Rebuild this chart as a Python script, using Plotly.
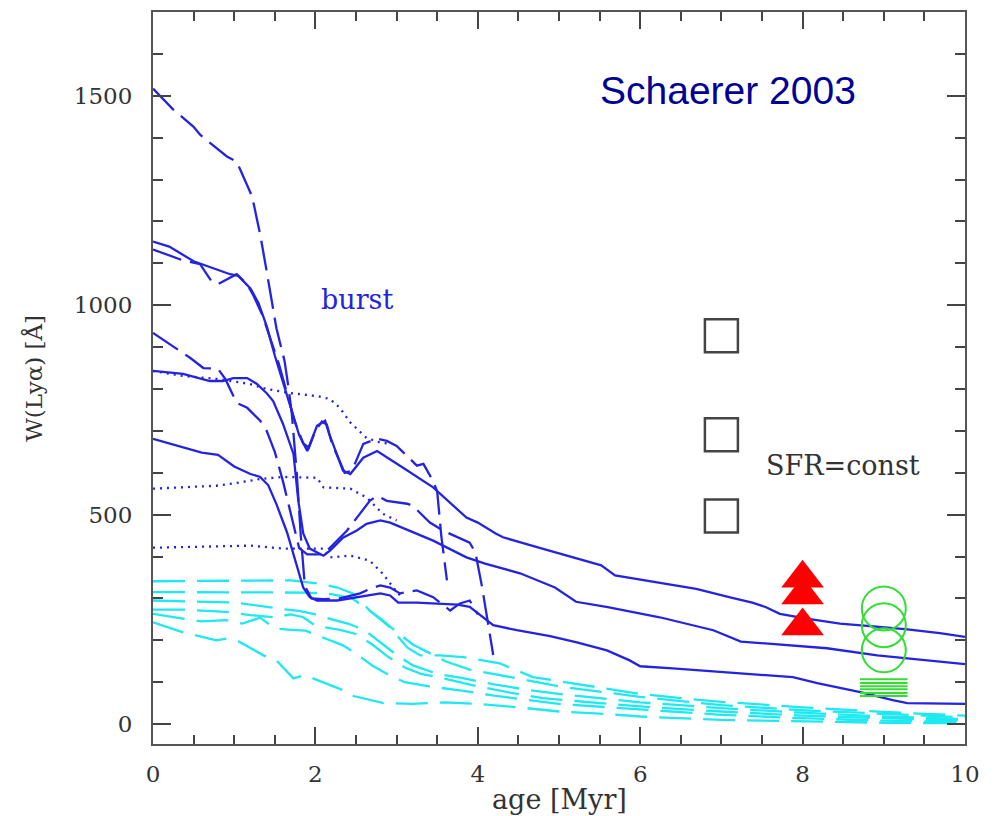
import plotly.graph_objects as go

# ---- Z=0 model tracks: W(Lya) [A] versus age [Myr] ----
# solid tracks
s1_age = [0, 0.2, 0.5, 0.95, 1.05, 1.2, 1.3, 1.4, 1.5, 1.6, 1.7, 1.8, 1.9, 2.02, 2.12, 2.17, 2.34, 2.43,
          2.59, 2.76, 3.08, 3.45, 3.86, 4.0, 4.22, 4.31, 4.74, 5.17, 5.52, 5.69, 6.24, 6.69, 7.12, 7.38,
          7.55, 7.72, 8.05, 8.46, 8.87, 9.29, 9.69, 10]
s1_w = [1152, 1140, 1105, 1074, 1070, 1040, 1005, 950, 880, 815, 750, 690, 652, 712, 724, 693, 605, 597,
        636, 652, 612, 565, 493, 481, 455, 446, 422, 398, 379, 355, 338, 323, 302, 290,
        279, 263, 252, 240, 233, 226, 217, 208]

s2_age = [0, 0.37, 0.7, 0.86, 0.99, 1.16, 1.28, 1.4, 1.48, 1.6, 1.73, 1.79, 1.85, 1.93, 2.1, 2.18, 2.34,
          2.51, 2.63, 2.8, 2.92, 3.16, 3.45, 3.86, 4.09, 4.52, 4.95, 5.21, 5.6, 6.24, 6.9, 7.24, 7.76,
          8.3, 8.92, 9.53, 10]
s2_w = [843, 836, 819, 819, 826, 826, 812, 790, 771, 717, 645, 533, 455, 419, 402, 414, 445,
        462, 478, 486, 481, 462, 438, 398, 383, 360, 326, 292, 279, 255, 224, 197, 190,
        181, 164, 152, 143]

s3_age = [0, 0.3, 0.6, 0.8, 1.0, 1.2, 1.32, 1.42, 1.52, 1.65, 1.77, 1.85, 1.93, 2.02, 2.27, 2.51, 2.8,
          2.92, 3.02, 3.25, 3.53, 3.75, 3.9, 3.99, 4.11, 4.19, 4.48, 4.89, 5.22, 5.59, 5.87, 6.0, 6.4,
          7.07, 7.88, 8.18, 8.71, 9.11, 9.29, 10]
s3_w = [681, 665, 648, 643, 615, 597, 590, 570, 525, 458, 375, 326, 303, 295, 295, 303, 312,
        307, 290, 290, 288, 285, 280, 267, 248, 236, 224, 210, 195, 176, 152, 138, 133,
        124, 112, 98, 76, 57, 50, 48]

# long-dashed tracks
ld1_age = [0, 0.25, 0.5, 0.58, 0.91, 1.03, 1.22, 1.32, 1.4, 1.52, 1.58, 1.62, 1.67, 1.71, 1.77, 1.82,
           1.87, 1.95, 2.1, 2.3, 2.55, 2.7, 2.8, 2.92, 3.04, 3.25, 3.45, 3.66, 3.78, 3.9, 4.0]
ld1_w = [1517, 1467, 1426, 1407, 1355, 1343, 1260, 1169, 1081, 945, 898, 867, 802, 740, 600, 450,
         330, 300, 298, 300, 312, 325, 331, 326, 312, 319, 303, 271, 288, 295, 262]

ld2_age = [0, 0.37, 0.58, 0.72, 0.8, 0.92, 1.03, 1.15, 1.23, 1.35, 1.45, 1.55, 1.65, 1.75, 1.85, 1.92,
           2.0, 2.08, 2.14, 2.2, 2.36, 2.45, 2.59, 2.76, 2.88, 3.0, 3.25, 3.33, 3.45, 3.5, 3.55, 3.62]
ld2_w = [1133, 1107, 1098, 1057, 1050, 1062, 1074, 1052, 1026, 975, 920, 860, 790, 720, 670, 660,
         700, 722, 715, 672, 600, 605, 669, 681, 676, 664, 617, 621, 580, 555, 450, 343]

ld3_age = [0, 0.46, 0.62, 0.8, 0.89, 1.03, 1.16, 1.32, 1.4, 1.5, 1.6, 1.7, 1.8, 1.9, 2.1, 2.39, 2.67,
           2.76, 2.88, 3.13, 3.2, 3.41, 3.57, 3.9, 3.97, 4.05, 4.12, 4.19]
ld3_w = [934, 874, 850, 848, 824, 767, 755, 724, 700, 650, 580, 500, 420, 405, 405, 462, 533,
         545, 533, 526, 521, 481, 462, 433, 410, 330, 250, 165]

# dotted tracks
d1_age = [0, 0.37, 0.79, 1.19, 1.4, 1.69, 2.02, 2.18, 2.3, 2.43, 2.63, 2.8, 2.9]
d1_w = [843, 831, 824, 812, 800, 790, 783, 776, 755, 720, 683, 672, 670]

d2_age = [0, 0.78, 1.07, 1.32, 1.6, 2.02, 2.1, 2.43, 2.63, 2.83, 3.0]
d2_w = [562, 569, 577, 585, 590, 588, 565, 562, 541, 502, 486]

d3_age = [0, 0.6, 1.2, 1.6, 2.1, 2.18, 2.43, 2.67, 2.83, 2.96, 3.05]
d3_w = [421, 424, 426, 419, 419, 398, 402, 390, 359, 326, 305]

# higher-metallicity tracks (dashed, cyan)
c1_age = [0, 1.0, 1.7, 2.02, 2.27, 2.46, 2.67, 2.92, 3.13, 3.29, 3.53, 3.82, 4.27, 4.68, 5.3, 6.0, 6.5,
          7.0, 8.0, 9.0, 10]
c1_w = [341, 342, 343, 336, 326, 312, 271, 231, 183, 164, 164, 160, 145, 112, 93, 72, 62,
        53, 40, 29, 20]

c2_age = [0, 1.0, 1.9, 2.2, 2.45, 2.6, 2.8, 3.0, 3.2, 3.4, 3.6, 3.9, 4.2, 4.6, 5.0, 5.5, 6.0, 6.5,
          7.0, 8.0, 9.0, 10]
c2_w = [315, 315, 314, 310, 300, 280, 252, 220, 190, 170, 150, 130, 120, 105, 90, 78, 65, 55,
        45, 33, 24, 16]

c3_age = [0, 0.5, 1.0, 1.4, 1.6, 1.8, 2.0, 2.2, 2.4, 2.6, 2.8, 3.0, 3.2, 3.5, 3.8, 4.2, 4.6, 5.0,
          5.5, 6.0, 7.0, 8.0, 9.0, 10]
c3_w = [295, 293, 290, 280, 274, 270, 262, 250, 240, 225, 195, 165, 140, 120, 110, 95, 82, 72,
        62, 52, 38, 27, 18, 12]

c4_age = [0, 0.4, 0.9, 1.2, 1.5, 1.7, 1.85, 2.0, 2.3, 2.5, 2.7, 2.9, 3.1, 3.3, 3.6, 4.0, 4.4, 4.8,
          5.2, 6.0, 7.0, 8.0, 9.0, 10]
c4_w = [273, 273, 268, 260, 255, 262, 255, 235, 225, 215, 190, 160, 135, 120, 108, 90, 75, 62,
        55, 42, 30, 20, 14, 8]

c5_age = [0, 0.4, 0.6, 0.9, 1.1, 1.32, 1.5, 1.7, 1.88, 2.02, 2.34, 2.5, 2.7, 2.9, 3.1, 3.4, 3.8, 4.2,
          4.6, 5.0, 6.0, 7.0, 8.0, 9.0, 10]
c5_w = [263, 252, 245, 248, 240, 254, 228, 225, 223, 212, 188, 168, 140, 118, 100, 90, 80, 68,
        58, 48, 35, 22, 14, 8, 5]

c6_age = [0, 0.37, 0.54, 0.78, 0.91, 1.03, 1.36, 1.52, 1.73, 1.87, 2.34, 2.47, 2.84, 3.2, 3.6, 4.0,
          4.5, 5.0, 5.5, 6.0, 7.0, 8.0, 9.0, 10]
c6_w = [243, 219, 211, 200, 204, 200, 164, 152, 109, 117, 81, 67, 50, 48, 52, 48,
        40, 30, 25, 18, 10, 6, 3, 2]

# ---- observed points ----
sq_age = [7.0, 7.0, 7.0]
sq_w = [927, 691, 497]
tri_age = [8.0, 8.0, 8.0]
tri_w = [348, 308, 234]
circ_age = [9.0, 9.0, 9.0]
circ_w = [276, 236, 176]
bar_age = [9.0, 9.0, 9.0, 9.0, 9.0, 9.0]
bar_w = [107, 98, 90, 83, 74, 67]

# ---- styles ----
BLUE = "#2424e0"
CYAN = "#1ee8f0"
GREEN = "#33dd33"
GREY = "#444444"
SERIF = "DejaVu Serif"

fig = go.Figure()


def track(x, y, color, dash):
    fig.add_trace(go.Scatter(x=x, y=y, mode="lines",
                             line=dict(color=color, width=2.3, dash=dash),
                             hoverinfo="skip", showlegend=False))


for cx, cy in [(c1_age, c1_w), (c2_age, c2_w), (c3_age, c3_w),
               (c4_age, c4_w), (c5_age, c5_w), (c6_age, c6_w)]:
    track(cx, cy, CYAN, "32px,12px")

for dx, dy in [(d1_age, d1_w), (d2_age, d2_w), (d3_age, d3_w)]:
    track(dx, dy, BLUE, "2px,5px")

for lx, ly in [(ld1_age, ld1_w), (ld2_age, ld2_w), (ld3_age, ld3_w)]:
    track(lx, ly, BLUE, "30px,9px")

for sx, sy in [(s1_age, s1_w), (s2_age, s2_w), (s3_age, s3_w)]:
    track(sx, sy, BLUE, "solid")

fig.add_trace(go.Scatter(x=sq_age, y=sq_w, mode="markers", showlegend=False,
                         marker=dict(symbol="square-open", size=33, color=GREY,
                                     line=dict(color=GREY, width=2.5))))
fig.add_trace(go.Scatter(x=tri_age, y=tri_w, mode="markers", showlegend=False,
                         marker=dict(symbol="triangle-up", size=37, color="#ff0000",
                                     line=dict(width=0))))
fig.add_trace(go.Scatter(x=circ_age, y=circ_w, mode="markers", showlegend=False,
                         marker=dict(symbol="circle-open", size=44, color=GREEN,
                                     line=dict(color=GREEN, width=2))))
fig.add_trace(go.Scatter(x=bar_age, y=bar_w, mode="markers", showlegend=False,
                         marker=dict(symbol="line-ew-open", size=34, color=GREEN,
                                     line=dict(color=GREEN, width=2))))

axis_common = dict(
    showgrid=False, zeroline=False,
    showline=True, linecolor="#555555", linewidth=2, mirror="ticks",
    ticks="inside", tickcolor="#444444", tickwidth=1.5,
    tickfont=dict(family=SERIF, size=23, color="#333333"),
)

fig.update_xaxes(range=[0, 10], dtick=2, tick0=0, ticklen=17,
                 ticklabelstandoff=8,
                 minor=dict(dtick=0.5, ticks="inside", ticklen=9,
                            tickcolor="#444444", tickwidth=1.5),
                 **axis_common)
fig.update_yaxes(range=[-47.6, 1700], tickvals=[0, 500, 1000, 1500], ticklen=18,
                 ticklabelstandoff=14,
                 minor=dict(dtick=100, tick0=0, ticks="inside", ticklen=10,
                            tickcolor="#444444", tickwidth=1.5),
                 **axis_common)

fig.add_annotation(text="age [Myr]", xref="paper", yref="paper", x=0.5, y=-0.0763,
                   xanchor="center", yanchor="middle", showarrow=False,
                   font=dict(family=SERIF, size=27, color="#333333"))
fig.add_annotation(text="W(Lyα) [Å]", xref="paper", yref="paper", x=-0.148, y=0.5,
                   xanchor="center", yanchor="middle", textangle=-90, showarrow=False,
                   font=dict(family=SERIF, size=23, color="#333333"))
fig.add_annotation(text="Schaerer 2003", x=7.08, y=1512, xanchor="center", yanchor="middle",
                   showarrow=False,
                   font=dict(family="Liberation Sans", size=39, color="#000096"))
fig.add_annotation(text="burst", x=2.51, y=1014, xanchor="center", yanchor="middle",
                   showarrow=False, font=dict(family=SERIF, size=27, color=BLUE))
fig.add_annotation(text="SFR=const", x=8.5, y=617, xanchor="center", yanchor="middle",
                   showarrow=False, font=dict(family=SERIF, size=27, color="#333333"))

fig.update_layout(width=1000, height=816, margin=dict(l=153, r=35, t=10, b=72),
                  plot_bgcolor="white", paper_bgcolor="white", showlegend=False)

fig.write_html("out.html")
